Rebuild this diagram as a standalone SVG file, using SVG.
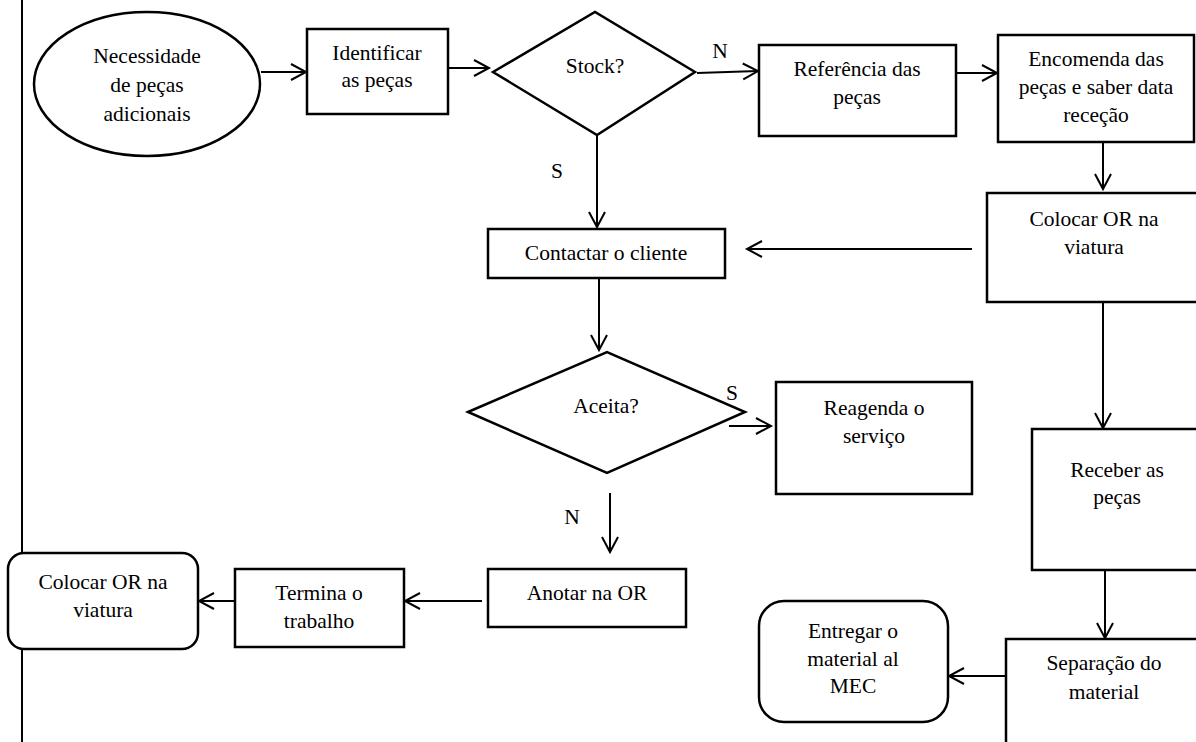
<svg xmlns="http://www.w3.org/2000/svg" width="1196" height="742" viewBox="0 0 1196 742">
<style>
.s{fill:#fff;stroke:#000;stroke-width:2.5}
.t{font-family:"Liberation Serif","Times New Roman",serif;font-size:21.5px;fill:#000;text-anchor:middle}
.c{fill:none;stroke:#000;stroke-width:2;marker-end:url(#a)}
.l{fill:none;stroke:#000;stroke-width:2}
</style>
<defs>
<marker id="a" markerWidth="20" markerHeight="20" refX="16" refY="9" orient="auto" markerUnits="userSpaceOnUse" overflow="visible">
<path d="M1,1 L16,9 L1,17" fill="none" stroke="#000" stroke-width="2"/>
</marker>
</defs>
<rect width="1196" height="742" fill="#fff"/>
<line class="l" x1="22" y1="0" x2="22" y2="742" stroke-width="2.5"/>
<g id="connectors">
<line class="c" x1="261" y1="72" x2="306" y2="72"/>
<line class="c" x1="448" y1="68" x2="489" y2="68"/>
<line class="c" x1="697" y1="73" x2="758" y2="71"/>
<line class="c" x1="956" y1="73" x2="997" y2="73"/>
<line class="c" x1="1103" y1="142" x2="1103" y2="189"/>
<line class="c" x1="597" y1="136" x2="597" y2="227"/>
<line class="c" x1="972" y1="249" x2="747" y2="249"/>
<line class="c" x1="599" y1="278" x2="599" y2="350"/>
<line class="c" x1="1103" y1="302" x2="1103" y2="428"/>
<line class="c" x1="729" y1="426" x2="771" y2="426"/>
<line class="c" x1="610" y1="493" x2="610" y2="552"/>
<line class="c" x1="1105" y1="570" x2="1105" y2="638"/>
<line class="c" x1="1006" y1="676" x2="949" y2="676"/>
<line class="c" x1="482" y1="601" x2="405" y2="601"/>
<line class="c" x1="235" y1="601" x2="199" y2="601"/>
<text class="t" x="720" y="58">N</text>
<text class="t" x="557" y="178">S</text>
<text class="t" x="732" y="400">S</text>
<text class="t" x="572" y="524">N</text>
</g>
<g id="n1">
<ellipse class="s" cx="147" cy="84" rx="113" ry="72"/>
<text class="t" x="147" y="63">Necessidade</text>
<text class="t" x="147" y="92">de peças</text>
<text class="t" x="147" y="121">adicionais</text>
</g>
<g id="n2">
<rect class="s" x="307" y="29" width="141" height="85"/>
<text class="t" x="377" y="60">Identificar</text>
<text class="t" x="377" y="87">as peças</text>
</g>
<g id="n3">
<polygon class="s" points="493,72 595,12 695,72 597,135"/>
<text class="t" x="595" y="73">Stock?</text>
</g>
<g id="n4">
<rect class="s" x="759" y="45" width="197" height="91"/>
<text class="t" x="857" y="76">Referência das</text>
<text class="t" x="857" y="104">peças</text>
</g>
<g id="n5">
<rect class="s" x="998" y="35" width="196" height="107"/>
<text class="t" x="1096" y="66">Encomenda das</text>
<text class="t" x="1096" y="94">peças e saber data</text>
<text class="t" x="1096" y="122">receção</text>
</g>
<g id="n6">
<rect class="s" x="987" y="193" width="215" height="109"/>
<text class="t" x="1094" y="226">Colocar OR na</text>
<text class="t" x="1094" y="254">viatura</text>
</g>
<g id="n7">
<rect class="s" x="488" y="229" width="237" height="49"/>
<text class="t" x="606" y="260">Contactar o cliente</text>
</g>
<g id="n8">
<polygon class="s" points="468,412 607,352 745,412 607,473"/>
<text class="t" x="606" y="413">Aceita?</text>
</g>
<g id="n9">
<rect class="s" x="776" y="382" width="196" height="112"/>
<text class="t" x="874" y="415">Reagenda o</text>
<text class="t" x="874" y="443">serviço</text>
</g>
<g id="n10">
<rect class="s" x="1032" y="429" width="172" height="141"/>
<text class="t" x="1117" y="477">Receber as</text>
<text class="t" x="1117" y="504">peças</text>
</g>
<g id="n11">
<rect class="s" x="1006" y="639" width="196" height="110"/>
<text class="t" x="1104" y="670">Separação do</text>
<text class="t" x="1104" y="699">material</text>
</g>
<g id="n12">
<rect class="s" x="759" y="601" width="189" height="121" rx="25" ry="25"/>
<text class="t" x="853" y="638">Entregar o</text>
<text class="t" x="853" y="666">material al</text>
<text class="t" x="853" y="693">MEC</text>
</g>
<g id="n13">
<rect class="s" x="488" y="569" width="198" height="58"/>
<text class="t" x="587" y="600">Anotar na OR</text>
</g>
<g id="n14">
<rect class="s" x="235" y="569" width="169" height="78"/>
<text class="t" x="319" y="600">Termina o</text>
<text class="t" x="319" y="628">trabalho</text>
</g>
<g id="n15">
<rect class="s" x="8" y="553" width="190" height="96" rx="16" ry="16"/>
<text class="t" x="103" y="589">Colocar OR na</text>
<text class="t" x="103" y="617">viatura</text>
</g>
</svg>
